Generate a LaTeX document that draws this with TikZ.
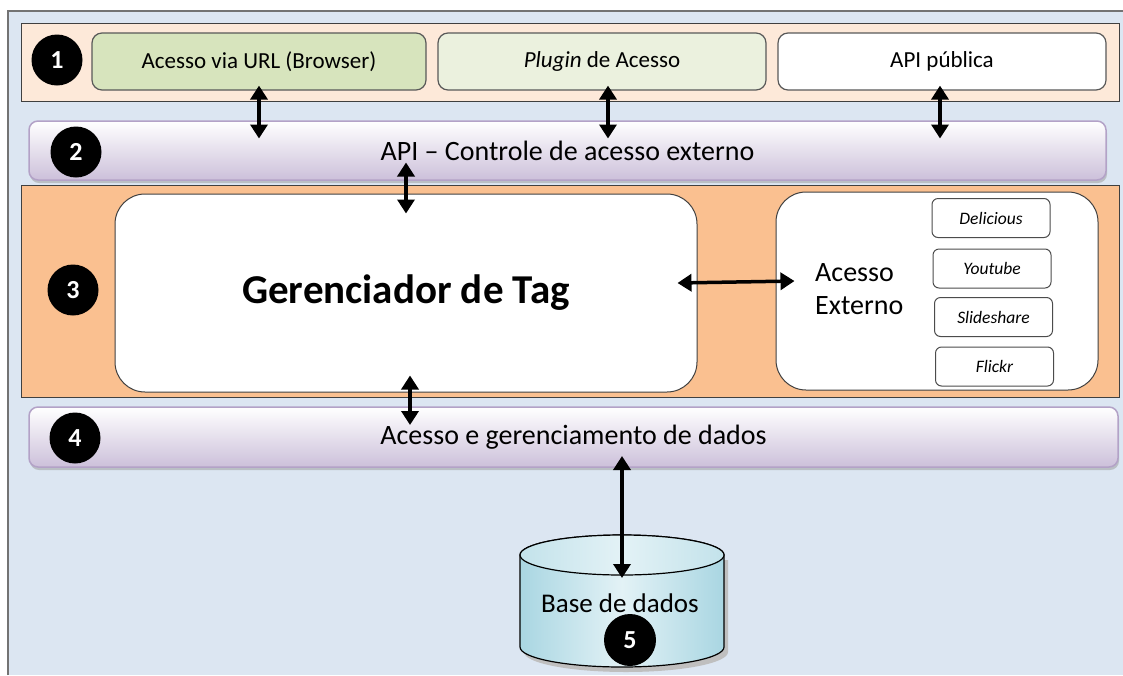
\documentclass[tikz,border=0pt]{standalone}
\usepackage{fontspec}
\setmainfont{Carlito}
\usetikzlibrary{positioning}
\usetikzlibrary{shapes.geometric}
\usetikzlibrary{shadows}
\usetikzlibrary{arrows.meta}
\definecolor{bgblue}{HTML}{DCE6F2}
\definecolor{peach}{HTML}{FDE9D9}
\definecolor{urlgreen}{HTML}{D7E4BD}
\definecolor{plugreen}{HTML}{EBF1DE}
\definecolor{lav}{HTML}{CCC0DA}
\definecolor{lavline}{HTML}{B3A2C7}
\definecolor{tagorange}{HTML}{FAC090}
\definecolor{dbcyan}{HTML}{A9D6E2}
\definecolor{dbtop}{HTML}{E3F2F6}
\tikzstyle{layer} = [rectangle, draw=black!75, line width=1pt, inner sep=0pt]
\tikzstyle{band} = [rectangle, rounded corners=9pt, draw=lavline, line width=1.5pt,
top color=white, bottom color=lav, inner sep=0pt,
font=\fontsize{28}{30}\selectfont,
drop shadow={shadow xshift=1pt, shadow yshift=-3pt, fill=black!40}]
\tikzstyle{access} = [rectangle, rounded corners=10pt, draw=black!65, line width=1.2pt,
minimum height=57pt, font=\fontsize{23}{26}\selectfont]
\tikzstyle{number} = [circle, fill=black, text=white, minimum size=51pt, inner sep=0pt,
font=\bfseries\fontsize{26}{26}\selectfont]
\tikzstyle{bigbox} = [rectangle, rounded corners=30pt, draw=black!75, line width=1pt,
fill=white, minimum height=198pt]
\tikzstyle{site} = [rectangle, rounded corners=6pt, draw=black!70, line width=1pt,
fill=white, minimum width=118pt, minimum height=39pt,
font=\itshape\fontsize{17.5}{18}\selectfont]
\tikzstyle{dbl} = [{Triangle[length=14pt,width=17pt]}-{Triangle[length=14pt,width=17pt]},
line width=3.5pt]
\begin{document}
\begin{tikzpicture}[x=1pt,y=-1pt]
  \useasboundingbox (0,0) rectangle (1123,675);
  \fill[bgblue] (8,11) rectangle (1123,675);
  \draw[black!55, line width=1.5pt] (8,675) -- (8,11) -- (1123,11);

  % camada 1
  \node[layer, fill=peach, minimum width=1098pt, minimum height=78pt] (l1) at (570,62) {};
  \node[number] (n1) at (57,60) {1};
  \node[access, fill=urlgreen, minimum width=334pt] (url) at (259,61.5) {Acesso via URL (Browser)};
  \node[access, fill=plugreen, minimum width=328pt] (plugin) at (602,61.5) {\emph{Plugin} de Acesso};
  \node[access, fill=white, minimum width=328pt] (apipub) at (942,61.5) {API pública};

  % camada 2
  \node[band, minimum width=1077pt, minimum height=59pt] (l2) at (567.5,150.5) {API -- Controle de acesso externo};
  \node[number] (n2) at (76,152) {2};

  % camada 3
  \node[layer, fill=tagorange, minimum width=1098pt, minimum height=212pt] (l3) at (570,291) {};
  \node[number] (n3) at (73,290) {3};
  \node[bigbox, minimum width=582pt, font=\bfseries\fontsize{41}{44}\selectfont] (tag) at (406,293) {Gerenciador de Tag};
  \node[bigbox, minimum width=322pt] (ext) at (937,291) {};
  \node[anchor=west, align=left, inner sep=0pt, font=\fontsize{28}{33}\selectfont] (exttxt) at (815,289) {Acesso\\Externo};
  \node[site] (delicious) at (991,218) {Delicious};
  \node[site] (youtube) at (992,268.5) {Youtube};
  \node[site] (slideshare) at (993.5,317) {Slideshare};
  \node[site] (flickr) at (994.5,366.5) {Flickr};

  % camada 4
  \node[band, minimum width=1089pt, minimum height=60pt] (l4) at (573.5,437) {Acesso e gerenciamento de dados};
  \node[number] (n4) at (75,438) {4};

  % base de dados
  \fill[black!25] (524,560) -- (524,652) arc[start angle=180, end angle=0, x radius=102, y radius=20]
    -- (728,560) -- cycle;
  \path[draw=black, line width=1.2pt, left color=dbcyan, right color=dbcyan, middle color=dbtop]
    (520,555) -- (520,647) arc[start angle=180, end angle=0, x radius=102, y radius=20]
    -- (724,555) arc[start angle=0, end angle=-180, x radius=102, y radius=20] -- cycle;
  \path[draw=black, line width=1.2pt, left color=dbcyan!70, right color=dbcyan!70, middle color=dbtop]
    (622,555) ellipse[x radius=102, y radius=20];
  \coordinate (db) at (622,578);
  \node[font=\fontsize{27}{28}\selectfont] (dbtxt) at (620,603) {Base de dados};
  \node[number, minimum size=52pt] (n5) at (630,640) {5};

  % setas
  \draw[dbl] ([yshift=5pt]url.south) -- ([yshift=12pt]url.south |- l2.center);
  \draw[dbl] ([xshift=6pt,yshift=5pt]plugin.south) -- ([xshift=6pt,yshift=12pt]plugin.south |- l2.center);
  \draw[dbl] ([xshift=-2pt,yshift=5pt]apipub.south) -- ([xshift=-2pt,yshift=12pt]apipub.south |- l2.center);
  \draw[dbl] ([yshift=-12pt]tag.north |- l2.center) -- ([yshift=-20pt]tag.north);
  \draw[dbl] ([xshift=-20pt,yshift=10pt]tag.east) -- ([xshift=19pt,yshift=10pt]ext.west);
  \draw[dbl] ([xshift=4pt,yshift=17pt]tag.south) -- ([xshift=4pt,yshift=12pt]tag.south |- l4.center);
  \draw[dbl] ([yshift=-19pt]db |- l4.center) -- (db);
\end{tikzpicture}
\end{document}
